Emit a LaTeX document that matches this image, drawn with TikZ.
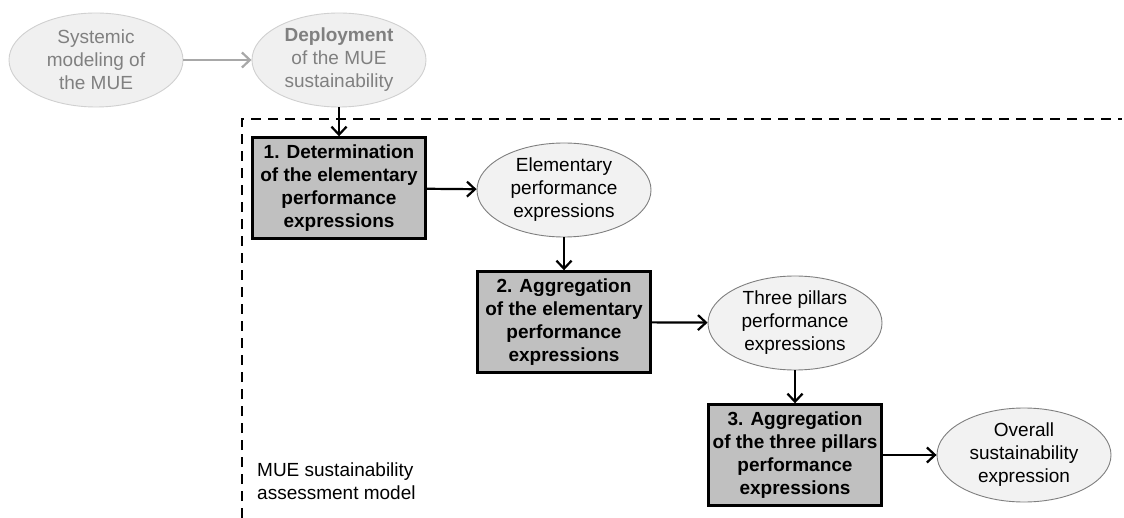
\documentclass[tikz,border=0pt]{standalone}
\usepackage{fontspec}
\setmainfont{Liberation Sans}
\usetikzlibrary{arrows.meta,shapes.geometric}
\definecolor{boxfill}{HTML}{C0C0C0}
\definecolor{ellfill}{HTML}{F2F2F2}
\definecolor{ellline}{HTML}{7F7F7F}
\definecolor{fadefill}{HTML}{F0F0F0}
\definecolor{fadeline}{HTML}{D0D0D0}
\definecolor{fadetext}{HTML}{808080}
\definecolor{fadearrow}{HTML}{A8A8A8}
\tikzset{
  txt/.style={font=\fontsize{19}{23}\selectfont, align=center, inner sep=0pt},
  ell/.style={txt, ellipse, draw=ellline, line width=0.9pt, fill=ellfill, minimum width=174pt, minimum height=94pt},
  fadeell/.style={txt, ellipse, draw=fadeline, line width=0.9pt, fill=fadefill, text=fadetext, minimum width=174pt, minimum height=94pt},
  stepbox/.style={txt, font=\fontsize{19}{23}\selectfont\bfseries, rectangle, draw=black, line width=2.4pt, fill=boxfill, minimum width=173pt, minimum height=101pt},
  arr/.style={-{Straight Barb[length=8pt,width=15pt,line width=2.2pt]}, line width=2.2pt, black},
  fadearr/.style={-{Straight Barb[length=8pt,width=15pt,line width=2.2pt]}, line width=2.2pt, fadearrow},
  frame/.style={line width=2pt, dash pattern=on 10pt off 7pt}
}
\begin{document}
\begin{tikzpicture}[x=1pt,y=-1pt]
\useasboundingbox (0,0) rectangle (1124,518);
\coordinate (fc) at (242,119);
\coordinate (fr) at (1122,119);
\coordinate (fb) at (242,518);
\draw[frame] (fb) -- (fc) -- (fr);

\node[fadeell] (sys) at (96,60) {Systemic\\modeling of\\the MUE};
\node[fadeell] (dep) at (339,60) {\textbf{Deployment}\\of the MUE\\sustainability};
\node[stepbox] (s1) at (339,188) {1. Determination\\of the elementary\\performance\\expressions};
\node[ell] (e1) at (564,190) {Elementary\\performance\\expressions};
\node[stepbox] (s2) at (564,322) {2. Aggregation\\of the elementary\\performance\\expressions};
\node[ell] (e2) at (795,323) {Three pillars\\performance\\expressions};
\node[stepbox] (s3) at (795,455) {3. Aggregation\\of the three pillars\\performance\\expressions};
\node[ell] (e3) at (1024,455) {Overall\\sustainability\\expression};
\node[txt, align=left, anchor=north west] (lbl) at (257,463) {MUE sustainability\\assessment model};

\draw[fadearr] (sys) -- (dep);
\draw[arr] (dep) -- (s1);
\draw[arr] (s1) -- (e1);
\draw[arr] (e1) -- (s2);
\draw[arr] (s2) -- (e2);
\draw[arr] (e2) -- (s3);
\draw[arr] (s3) -- (e3);
\end{tikzpicture}
\end{document}
